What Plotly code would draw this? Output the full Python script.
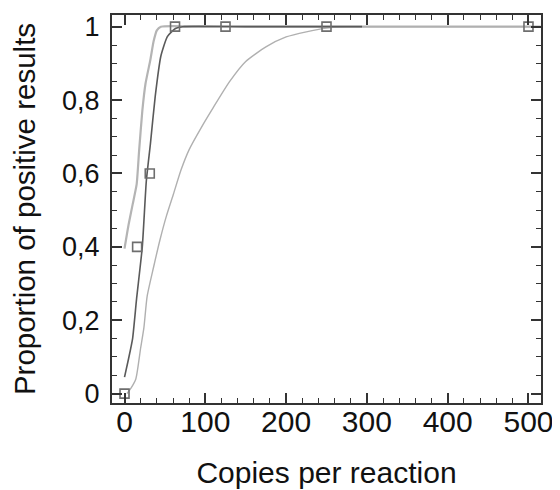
import plotly.graph_objects as go

# Observed data (copies per reaction vs proportion of positive results)
copies = [0, 15.6, 31.25, 62.5, 125, 250, 500]
proportion = [0, 0.4, 0.6, 1, 1, 1, 1]

# Fitted curve (dark)
fit_x = [0, 5, 10, 15, 22, 27, 32, 38, 45, 53, 63, 72, 150, 294]
fit_y = [0.045, 0.095, 0.15, 0.26, 0.40, 0.58, 0.68, 0.81, 0.92, 0.973, 0.995, 1.0, 1.0, 1.0]

# Upper light curve
upper_x = [0, 5, 10, 15, 18, 22, 26, 32, 36, 40, 45, 100, 300, 515]
upper_y = [0.395, 0.46, 0.515, 0.57, 0.66, 0.77, 0.845, 0.91, 0.96, 0.99, 1.0, 1.0, 1.0, 1.0]

# Lower light curve
lower_x = [3, 8, 14, 20, 24, 28, 36, 44, 52, 60, 70, 80, 95, 110, 130, 150, 175, 200, 225, 250, 275, 300, 515]
lower_y = [0.0, 0.015, 0.04, 0.125, 0.18, 0.265, 0.345, 0.42, 0.485, 0.54, 0.61, 0.665, 0.725, 0.78, 0.85, 0.905,
           0.945, 0.972, 0.986, 0.996, 1.0, 1.0, 1.0]

x_tickvals = [0, 100, 200, 300, 400, 500]
x_ticktext = ["0", "100", "200", "300", "400", "500"]
y_tickvals = [0, 0.2, 0.4, 0.6, 0.8, 1]
y_ticktext = ["0", "0,2", "0,4", "0,6", "0,8", "1"]

FONT = "Liberation Sans, Arial, sans-serif"

fig = go.Figure()
fig.add_trace(go.Scatter(x=upper_x, y=upper_y, mode="lines", line_shape="spline",
                         line=dict(color="#b4b4b4", width=2.2, smoothing=0.5), hoverinfo="skip"))
fig.add_trace(go.Scatter(x=lower_x, y=lower_y, mode="lines", line_shape="spline",
                         line=dict(color="#b0b0b0", width=1.4, smoothing=0.6), hoverinfo="skip"))
fig.add_trace(go.Scatter(x=fit_x, y=fit_y, mode="lines", line_shape="spline",
                         line=dict(color="#5a5a5a", width=1.6, smoothing=0.5), hoverinfo="skip"))
fig.add_trace(go.Scatter(x=copies, y=proportion, mode="markers",
                         marker=dict(symbol="square-open", size=9, color="#6e6e6e",
                                     line=dict(width=1.6, color="#6e6e6e"))))

axis_common = dict(
    showgrid=False, zeroline=False, showline=True, linecolor="#333333", linewidth=2,
    mirror="allticks", ticks="inside", ticklen=10, tickwidth=1.5, tickcolor="#333333",
    automargin=False,
)

fig.update_xaxes(**axis_common, range=[-15.5, 515.5], tickmode="array",
                 tickvals=x_tickvals, ticktext=x_ticktext, ticklabelstandoff=-9,
                 tickfont=dict(family=FONT, size=30, color="#111111"),
                 minor=dict(ticks="inside", dtick=20, ticklen=5, tickwidth=1.2, tickcolor="#333333"),
                 title=dict(text="Copies per reaction", standoff=25,
                            font=dict(family=FONT, size=30, color="#111111")))
fig.update_yaxes(**axis_common, range=[-0.0256, 1.0318], tickmode="array",
                 tickvals=y_tickvals, ticktext=y_ticktext, ticklabelstandoff=5,
                 tickfont=dict(family=FONT, size=27, color="#111111"),
                 minor=dict(ticks="inside", dtick=0.05, ticklen=5, tickwidth=1.2, tickcolor="#333333"),
                 title=dict(text="Proportion of positive results", standoff=24,
                            font=dict(family=FONT, size=29.5, color="#111111")))

# page body has an 8px default margin, so the figure is sized to fill the 560x490 window
fig.update_layout(
    width=552, height=482, showlegend=False,
    margin=dict(l=104, r=19, t=7, b=87),
    paper_bgcolor="white", plot_bgcolor="white",
)

fig.write_html("out.html")
